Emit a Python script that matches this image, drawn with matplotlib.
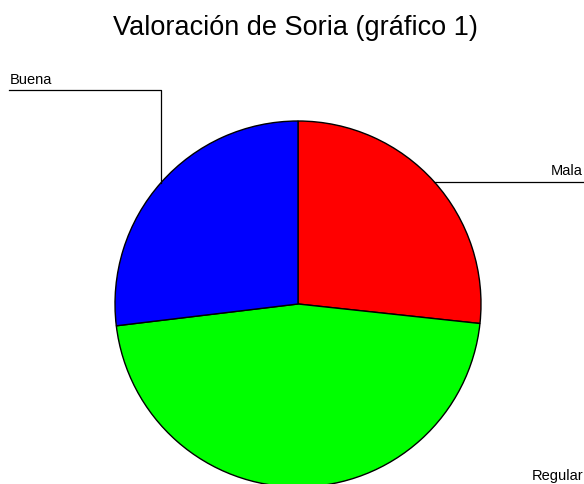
import numpy as np
import matplotlib
matplotlib.use("Agg")
from matplotlib import pyplot as plt

plt.rcParams['font.family'] = ['Liberation Sans', 'DejaVu Sans']

# datos (porcentaje de respuestas)
categorias = ['Mala', 'Regular', 'Buena']
valores = [26.7, 46.4, 26.9]
colores = ['#ff0000', '#00ff00', '#0000ff']
titulo = 'Valoración de Soria (gráfico 1)'

W, H = 584, 484
fig = plt.figure(figsize=(W / 100, H / 100), dpi=100)

# the pie sits at (298, 304) px from top-left, radius 183 px
r_px = 183.0
cx, cy = 298.0, 304.0
ax = fig.add_axes([0, 0, 1, 1])
ax.axis('off')

wedges, _ = ax.pie(valores, colors=colores, startangle=90, counterclock=False,
                   radius=1, wedgeprops=dict(edgecolor='black', linewidth=1.0))
ax.set_xlim(-cx / r_px, (W - cx) / r_px)
ax.set_ylim(-(H - cy) / r_px, cy / r_px)

x_left = -cx / r_px + 9 / r_px
x_right = (W - cx) / r_px
y_top = (cy - 90) / r_px
off = 6.5 / r_px

for w, nombre in zip(wedges, categorias):
    ang = np.deg2rad((w.theta1 + w.theta2) / 2)
    px, py = np.cos(ang), np.sin(ang)
    if px < -0.1:
        # goes up, then left
        ax.plot([px, px, x_left], [py, y_top, y_top], color='black', lw=0.9,
                clip_on=False)
        ax.text(x_left + 1 / r_px, y_top + off, nombre, ha='left',
                va='baseline', fontsize=10.5)
    else:
        ax.plot([px, x_right], [py, py], color='black', lw=0.9)
        ax.text(x_right - 1 / r_px, py + off, nombre, ha='right',
                va='baseline', fontsize=10.5)

fig.text(295 / W, 1 - 35 / H, titulo, ha='center', va='baseline', fontsize=19.5)

fig.savefig('out.png', dpi=100)
